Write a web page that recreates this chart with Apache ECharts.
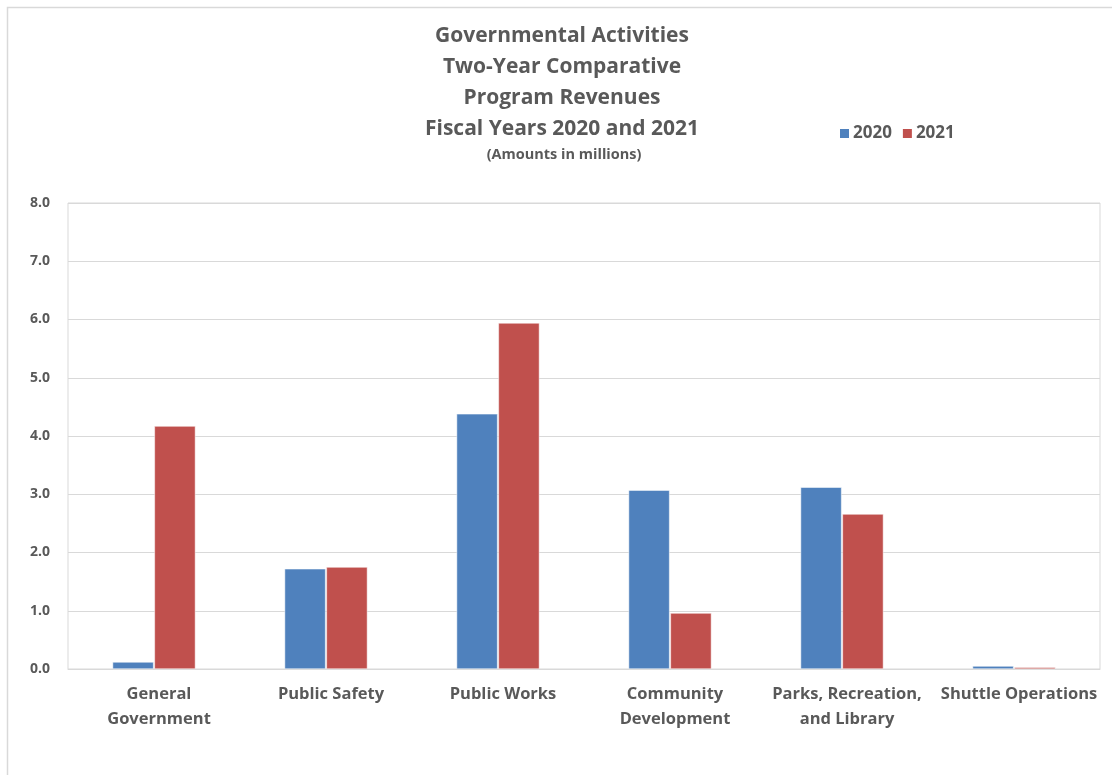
<!DOCTYPE html>
<html><head><meta charset="utf-8">
<script src="https://cdn.jsdelivr.net/npm/echarts@6/dist/echarts.min.js"></script>
<style>html,body{margin:0;padding:0;background:#fff}#c{width:1112px;height:775px}</style>
</head><body><div id="c"></div>
<script>
const categories = ["General\nGovernment", "Public Safety", "Public Works", "Community\nDevelopment", "Parks, Recreation,\nand Library", "Shuttle Operations"];
const values2020 = [0.12, 1.72, 4.38, 3.07, 3.12, 0.05];
const values2021 = [4.17, 1.75, 5.94, 0.96, 2.66, 0.03];
const seriesNames = ["2020", "2021"];
const yTicks = {min: 0, max: 8, interval: 1};

const font = "'Open Sans', 'Noto Sans', sans-serif";
const txt = "#595959";
const chart = echarts.init(document.getElementById('c'));
chart.setOption({
  animation: false,
  backgroundColor: '#fff',
  graphic: [{type: 'rect', shape: {x: 7.5, y: 7.5, width: 1120, height: 800}, style: {fill: 'none', stroke: '#d9d9d9', lineWidth: 1.5}, silent: true}],
  title: [{
    text: "Governmental Activities\nTwo-Year Comparative\nProgram Revenues\nFiscal Years 2020 and 2021",
    left: 557, top: 16, textAlign: 'center',
    textStyle: {fontFamily: font, fontSize: 21, fontWeight: 'bold', color: txt, lineHeight: 31}
  }, {
    text: "(Amounts in millions)", left: 559, top: 142, textAlign: 'center',
    textStyle: {fontFamily: font, fontSize: 14.5, fontWeight: 'bold', color: txt}
  }],
  legend: {
    data: seriesNames, left: 833, top: 120, itemWidth: 11, itemHeight: 11, itemGap: 9,
    icon: 'rect',
    textStyle: {fontFamily: font, fontSize: 17, fontWeight: 'bold', color: txt, padding: [0,0,0,-2]}
  },
  grid: {left: 68, right: 12, top: 203, bottom: 106, show: true, borderColor: '#d9d9d9', borderWidth: 1},
  xAxis: {
    type: 'category', data: categories,
    axisLine: {lineStyle: {color: '#d9d9d9'}}, axisTick: {show: false},
    axisLabel: {interval: 0, margin: 13, fontFamily: font, fontSize: 16.5, fontWeight: 'bold', color: txt, lineHeight: 25, padding: [0,0,0,10]}
  },
  yAxis: {
    type: 'value', min: yTicks.min, max: yTicks.max, interval: yTicks.interval,
    axisLine: {show: false}, axisTick: {show: false},
    splitLine: {lineStyle: {color: '#d9d9d9'}},
    axisLabel: {margin: 18, fontFamily: font, fontSize: 14, fontWeight: 'bold', color: txt, formatter: v => v.toFixed(1)}
  },
  series: [
    {name: seriesNames[0], type: 'bar', data: values2020, barWidth: 41, barGap: '2%', itemStyle: {color: '#4F81BD', borderColor: '#fff', borderWidth: 0.5}},
    {name: seriesNames[1], type: 'bar', data: values2021, barWidth: 41, barGap: '2%', itemStyle: {color: '#C0504D', borderColor: '#fff', borderWidth: 0.5}}
  ]
});
</script></body></html>
